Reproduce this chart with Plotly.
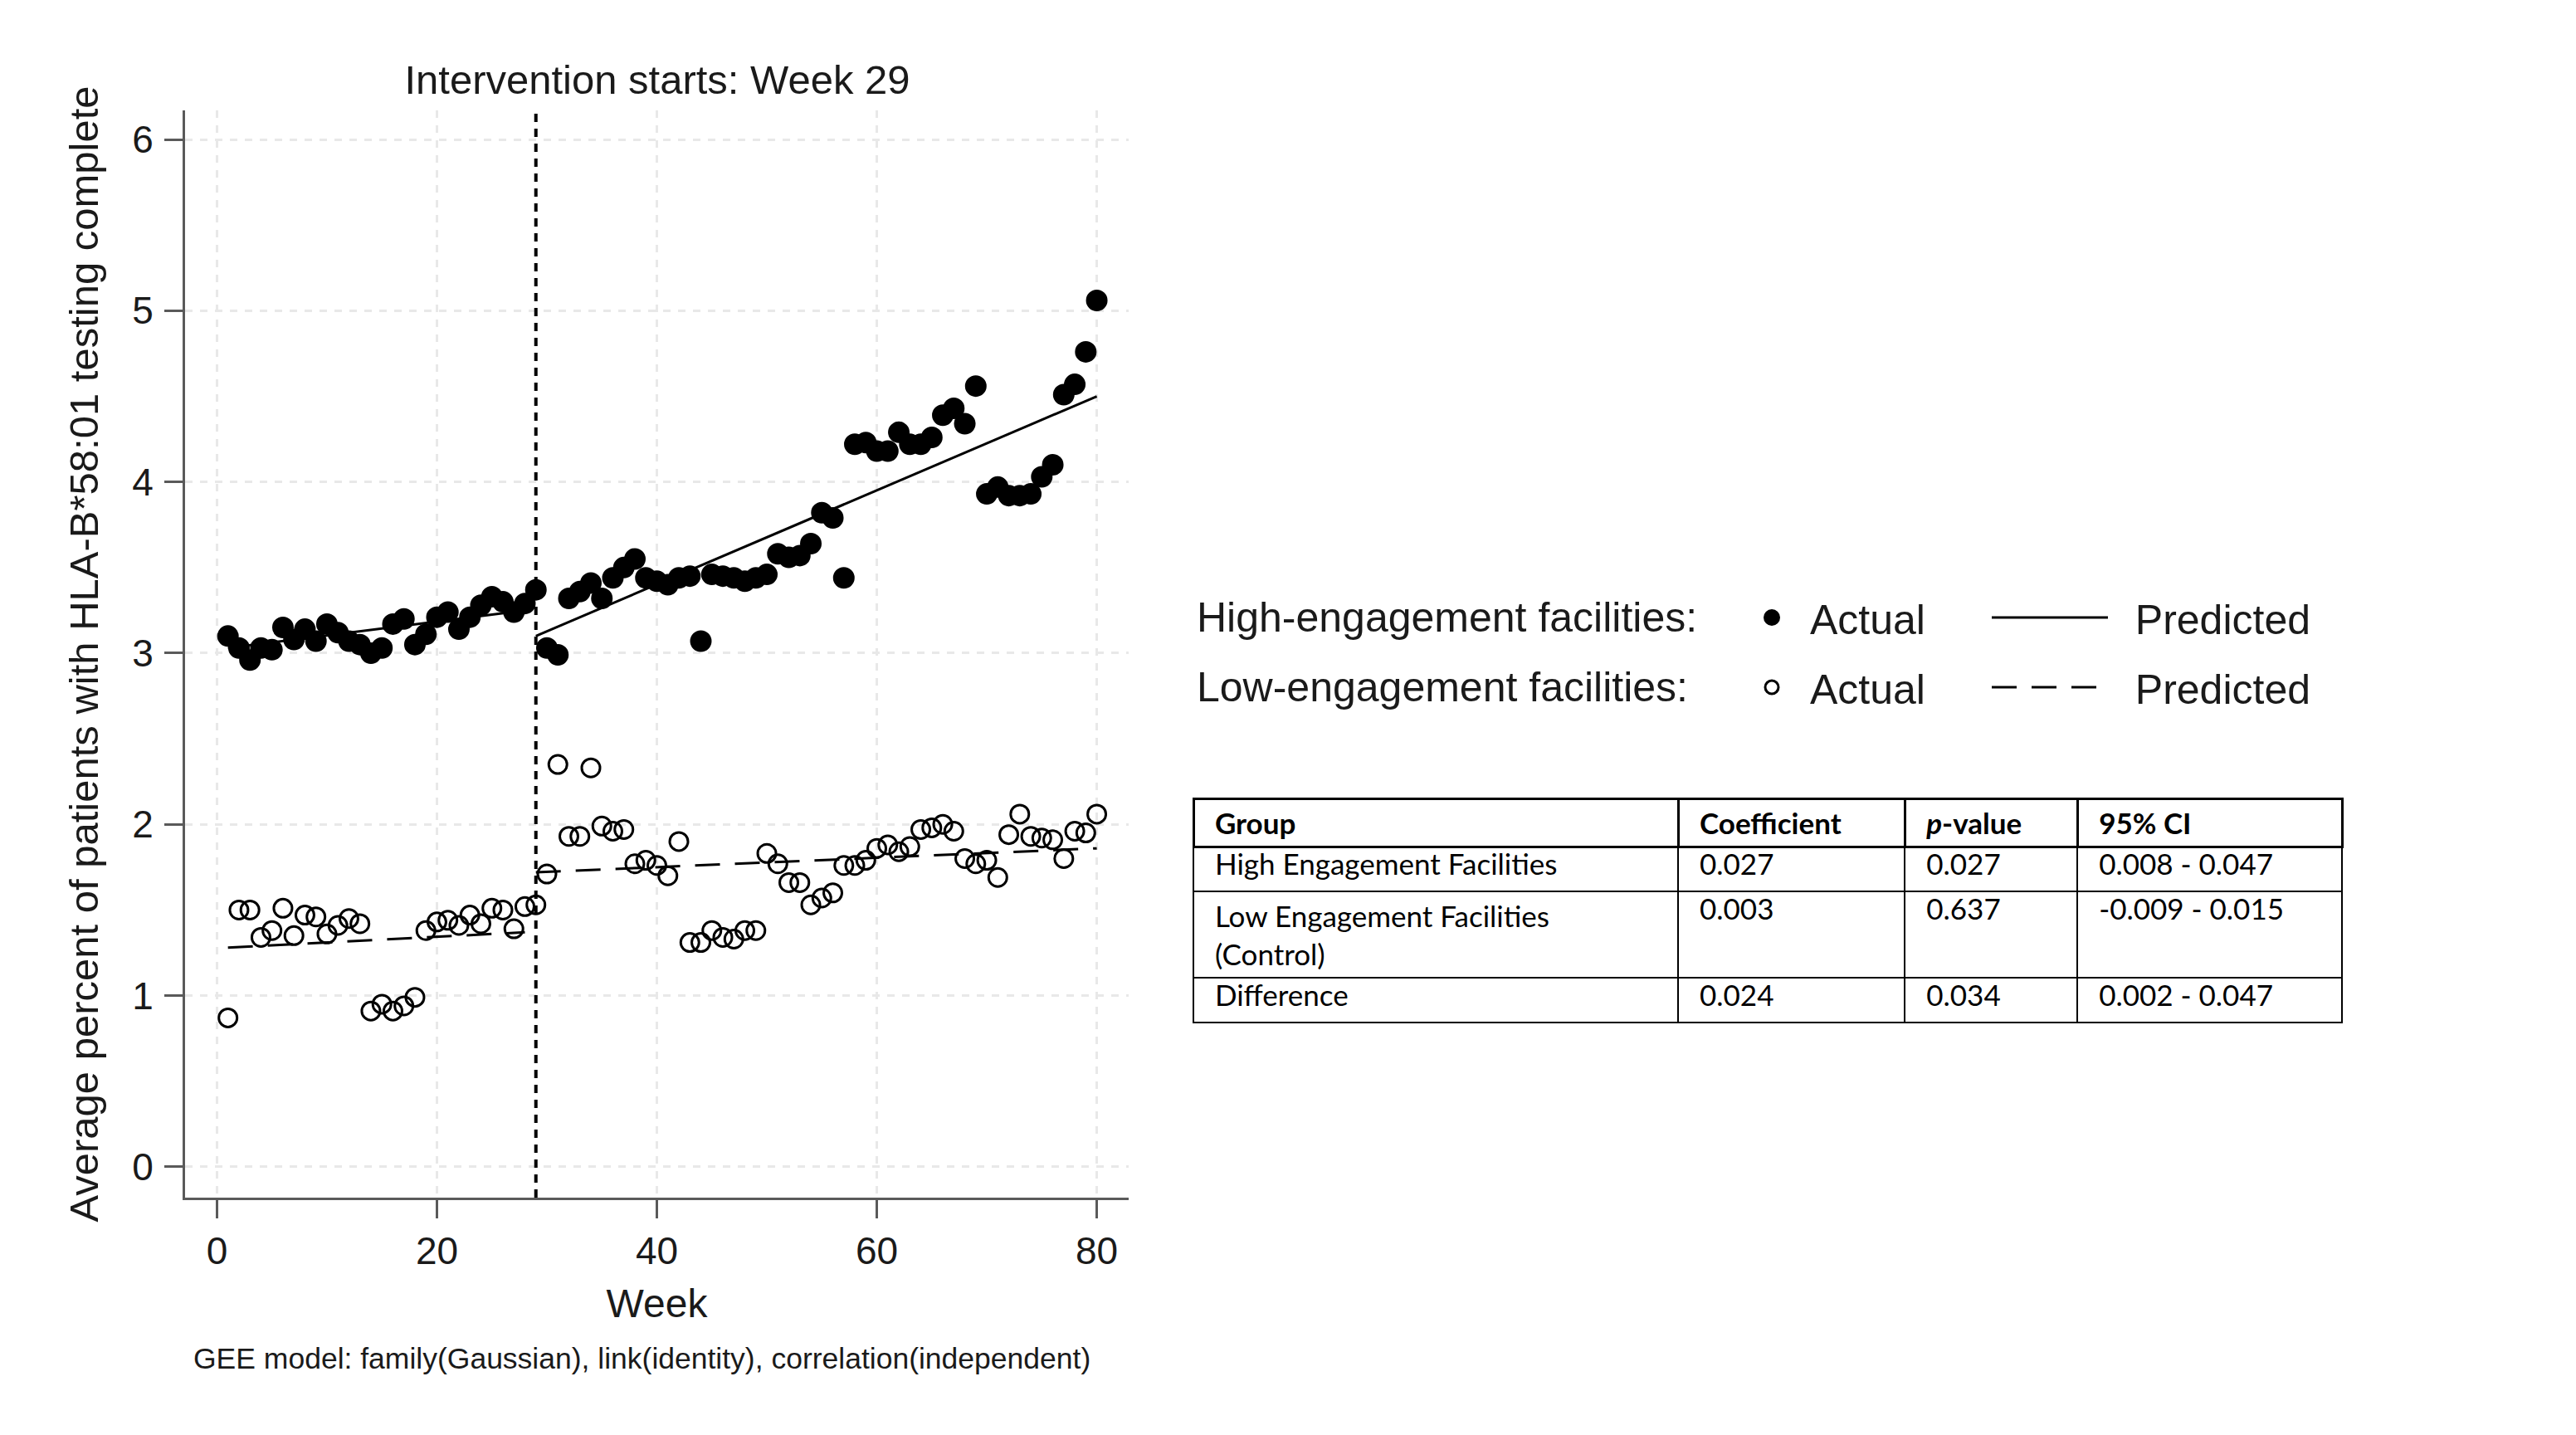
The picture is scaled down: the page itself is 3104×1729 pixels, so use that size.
import plotly.graph_objects as go

# weekly data
weeks = list(range(1, 81))

high_actual = [3.10, 3.03, 2.96, 3.03, 3.02, 3.15, 3.08, 3.14, 3.07, 3.17,
               3.12, 3.07, 3.05, 3.00, 3.03, 3.17, 3.20, 3.05, 3.11, 3.21,
               3.24, 3.14, 3.21, 3.28, 3.33, 3.30, 3.24, 3.29, 3.37, 3.03,
               2.99, 3.32, 3.36, 3.41, 3.32, 3.44, 3.50, 3.55, 3.44, 3.42,
               3.40, 3.44, 3.45, 3.07, 3.46, 3.45, 3.44, 3.42, 3.44, 3.46,
               3.58, 3.56, 3.57, 3.64, 3.82, 3.79, 3.44, 4.22, 4.23, 4.18,
               4.18, 4.29, 4.22, 4.22, 4.26, 4.39, 4.43, 4.34, 4.56, 3.93,
               3.97, 3.92, 3.92, 3.93, 4.03, 4.10, 4.51, 4.57, 4.76, 5.06]

low_actual = [0.87, 1.50, 1.50, 1.34, 1.38, 1.51, 1.35, 1.47, 1.46, 1.36,
              1.41, 1.45, 1.42, 0.91, 0.95, 0.91, 0.94, 0.99, 1.38, 1.43,
              1.44, 1.41, 1.47, 1.42, 1.51, 1.50, 1.39, 1.52, 1.53, 1.71,
              2.35, 1.93, 1.93, 2.33, 1.99, 1.96, 1.97, 1.77, 1.79, 1.76,
              1.70, 1.90, 1.31, 1.31, 1.38, 1.34, 1.33, 1.38, 1.38, 1.83,
              1.77, 1.66, 1.66, 1.53, 1.57, 1.60, 1.76, 1.76, 1.79, 1.86,
              1.88, 1.84, 1.87, 1.97, 1.98, 2.00, 1.96, 1.80, 1.77, 1.79,
              1.69, 1.94, 2.06, 1.93, 1.92, 1.91, 1.80, 1.96, 1.95, 2.06]

# predicted segments (start / end of each period)
pre_weeks = [1, 28]
post_weeks = [29, 80]
high_pred_pre = [3.03, 3.25]
high_pred_post = [3.10, 4.50]
low_pred_pre = [1.28, 1.37]
low_pred_post = [1.72, 1.86]

intervention_week = 29

x_ticks = [0, 20, 40, 60, 80]
y_ticks = [0, 1, 2, 3, 4, 5, 6]

# results table
tbl_header = ["<b>Group</b>", "<b>Coefficient</b>", "<b><i>p</i>-value</b>", "<b>95% CI</b>"]
tbl_group = ["High Engagement Facilities", "Low Engagement Facilities<br>(Control)", "Difference"]
tbl_coef = ["0.027", "0.003", "0.024"]
tbl_p = ["0.027", "0.637", "0.034"]
tbl_ci = ["0.008 - 0.047", "-0.009 - 0.015", "0.002 - 0.047"]

W, H = 3104, 1729
ML, MT, MB = 215, 125, 294   # plot box: x 215..1352, y 125..1435
PW = W - ML
PH = H - MT - MB


def px(xp):
    return (xp - ML) / PW


def py(yp):
    return (H - MB - yp) / PH


FONT = "Liberation Sans, Arial, sans-serif"
TBL_FONT = "Lato, Calibri, sans-serif"
TXT = "#1a1a1a"
AXC = "#5a5a5a"
NB = "\u00a0"


def pad(col):
    # a little left padding inside the table cells
    return [NB * 2 + s.replace("<br>", "<br>" + NB * 2) for s in col]


fig = go.Figure()

fig.add_trace(go.Scatter(x=weeks, y=high_actual, mode="markers", name="Actual",
                         marker=dict(symbol="circle", size=22, color="black",
                                     line=dict(width=4, color="black")),
                         legend="legend"))
fig.add_trace(go.Scatter(x=pre_weeks, y=high_pred_pre, mode="lines", name=NB * 2 + "Predicted",
                         line=dict(color="black", width=3), legend="legend2"))
fig.add_trace(go.Scatter(x=post_weeks, y=high_pred_post, mode="lines", name="Predicted",
                         line=dict(color="black", width=3), legend="legend2", showlegend=False))

fig.add_trace(go.Scatter(x=weeks, y=low_actual, mode="markers", name="Actual",
                         marker=dict(symbol="circle-open", size=22, color="black",
                                     line=dict(width=3, color="black")),
                         legend="legend3"))
fig.add_trace(go.Scatter(x=pre_weeks, y=low_pred_pre, mode="lines", name=NB * 2 + "Predicted",
                         line=dict(color="black", width=3, dash="30px,18px"), legend="legend4"))
fig.add_trace(go.Scatter(x=post_weeks, y=low_pred_post, mode="lines", name="Predicted",
                         line=dict(color="black", width=3, dash="30px,18px"),
                         legend="legend4", showlegend=False))

fig.add_vline(x=intervention_week, line=dict(color="black", width=4, dash="10px,8px"))

fig.add_trace(go.Table(
    domain=dict(x=[px(1430), px(2814)], y=[0.02, py(954)]),
    columnwidth=[590, 276, 210, 322],
    header=dict(values=pad(tbl_header), align="left", height=56,
                fill=dict(color="white"), line=dict(color="black", width=3),
                font=dict(family=TBL_FONT, size=35, color="black")),
    cells=dict(values=[pad(tbl_group), pad(tbl_coef), pad(tbl_p), pad(tbl_ci)],
               align="left", height=54,
               fill=dict(color="white"), line=dict(color="black", width=2),
               font=dict(family=TBL_FONT, size=35, color="black")),
))

axis_common = dict(showline=True, linecolor=AXC, linewidth=3, ticks="outside",
                   ticklen=22, tickwidth=3, tickcolor=AXC, showgrid=True,
                   gridcolor="#e8e8e8", gridwidth=3, griddash="dash", zeroline=False,
                   tickfont=dict(family=FONT, size=46, color=TXT), mirror=False)

fig.update_xaxes(range=[-2.9, 82.9], tickvals=x_ticks, domain=[0, px(1352)],
                 title=dict(text="Week", font=dict(family=FONT, size=48, color=TXT), standoff=22),
                 **axis_common)
fig.update_yaxes(range=[-0.18, 6.17], tickvals=y_ticks, ticklabelstandoff=4,
                 title=dict(text="Average percent of patients with HLA-B*58:01 testing complete",
                            font=dict(family=FONT, size=49, color=TXT), standoff=26),
                 **axis_common)

leg_common = dict(orientation="h", yanchor="middle", xanchor="left",
                  bgcolor="rgba(0,0,0,0)", borderwidth=0,
                  font=dict(family=FONT, size=50, color=TXT))
y_hi, y_lo = py(736), py(820)
fig.update_layout(
    showlegend=True,
    legend=dict(x=px(2081), y=y_hi, itemwidth=82, **leg_common),
    legend2=dict(x=px(2387), y=y_hi, itemwidth=140, **leg_common),
    legend3=dict(x=px(2081), y=y_lo, itemwidth=82, **leg_common),
    legend4=dict(x=px(2387), y=y_lo, itemwidth=140, **leg_common),
)

for label, yy in [("High-engagement facilities:", y_hi), ("Low-engagement facilities:", y_lo)]:
    fig.add_annotation(text=label, x=px(1432), y=yy, xref="paper", yref="paper",
                       xanchor="left", yanchor="middle", showarrow=False,
                       font=dict(family=FONT, size=50, color=TXT))

fig.add_annotation(text="GEE model: family(Gaussian), link(identity), correlation(independent)",
                   x=px(223), y=py(1629), xref="paper", yref="paper",
                   xanchor="left", yanchor="middle", showarrow=False,
                   font=dict(family=FONT, size=35.5, color=TXT))

fig.update_layout(
    width=W, height=H,
    margin=dict(l=ML, r=0, t=MT, b=MB, autoexpand=False),
    paper_bgcolor="white", plot_bgcolor="white",
    title=dict(text="Intervention starts: Week 29", x=px(784), xanchor="center",
               xref="paper", y=1 - 88 / H, yref="container", yanchor="middle",
               font=dict(family=FONT, size=49, color=TXT)),
)

fig.write_html("out.html")
